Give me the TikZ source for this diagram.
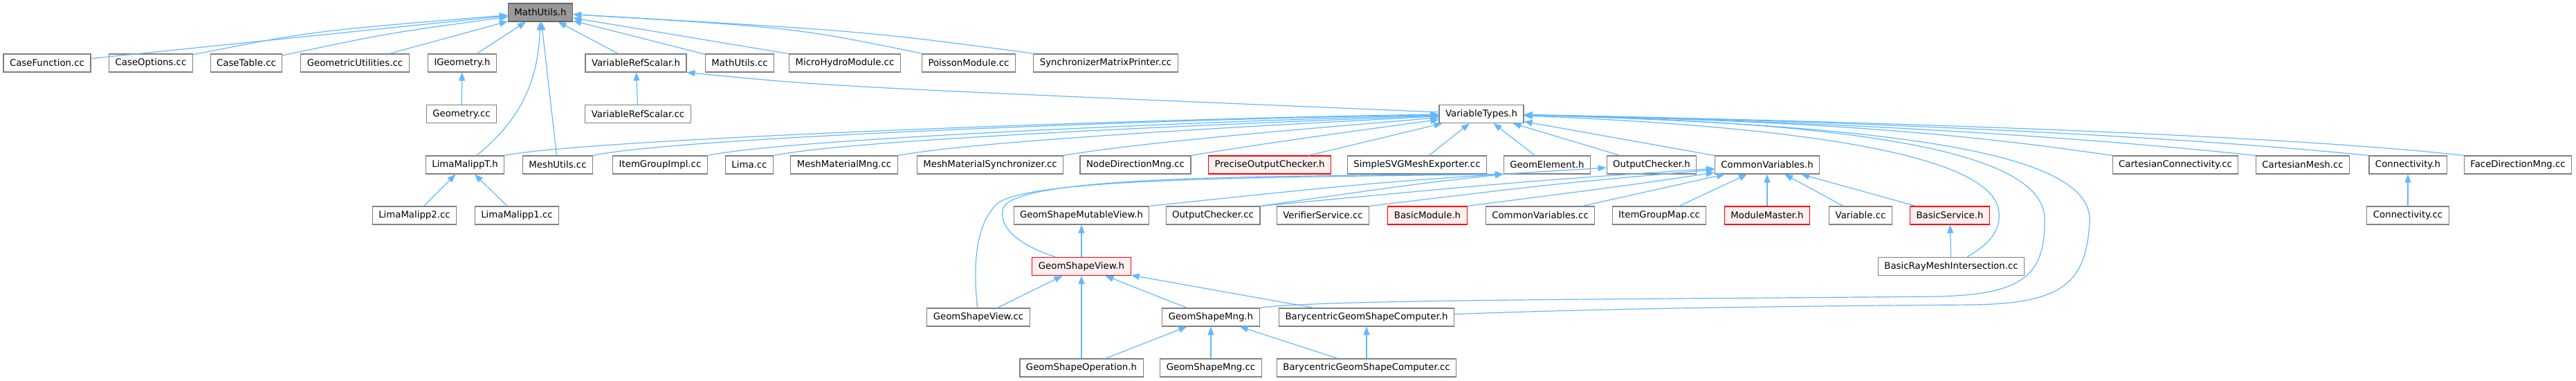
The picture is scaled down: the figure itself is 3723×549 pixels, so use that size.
\documentclass[tikz,border=0pt]{standalone}
\usepackage{fontspec}
\setmainfont{DejaVu Sans}
\usepackage{xcolor}
\usepackage{tikz}
\usetikzlibrary{arrows.meta}
\definecolor{edgeblue}{HTML}{63B8FF}
\definecolor{boxgray}{HTML}{808080}
\definecolor{rootfill}{HTML}{999999}
\definecolor{redfill}{HTML}{FFF0F0}

\begin{document}
\begin{tikzpicture}[
    x=1pt, y=-1pt,
    box/.style={rectangle, draw=boxgray, line width=1.1pt, fill=white, minimum height=26pt, inner xsep=9pt, inner ysep=2pt, font=\fontsize{13.3}{16}\selectfont},
    redbox/.style={box, draw=red, fill=redfill},
    rootbox/.style={box, draw=black!60, fill=rootfill},
    arrow/.style={<-, >={Triangle[length=12pt, width=9pt]}, edgeblue, line width=1.2pt}
]
    \useasboundingbox (0,0) rectangle (3723,549);

    \node[rootbox] (mathutils) at (781,18) {MathUtils.h};

    \node[box] (casefunction) at (68,91) {CaseFunction.cc};
    \node[box] (caseoptions) at (218,91) {CaseOptions.cc};
    \node[box] (casetable) at (356,91) {CaseTable.cc};
    \node[box] (geomutilities) at (513,91) {GeometricUtilities.cc};
    \node[box] (igeometry) at (668,91) {IGeometry.h};
    \node[box] (varrefscalar) at (919,91) {VariableRefScalar.h};
    \node[box] (mathutilscc) at (1069,91) {MathUtils.cc};
    \node[box] (microhydro) at (1221,91) {MicroHydroModule.cc};
    \node[box] (poisson) at (1400,91) {PoissonModule.cc};
    \node[box] (syncprinter) at (1598,91) {SynchronizerMatrixPrinter.cc};

    \node[box] (geometry) at (667,164.5) {Geometry.cc};
    \node[box] (varrefscalarcc) at (922,164.5) {VariableRefScalar.cc};
    \node[box] (vartypes) at (2141,164.5) {VariableTypes.h};

    \node[box] (limamalippt) at (672,238) {LimaMalippT.h};
    \node[box] (meshutils) at (806,238) {MeshUtils.cc};
    \node[box] (itemgroupimpl) at (954,238) {ItemGroupImpl.cc};
    \node[box] (lima) at (1083,238) {Lima.cc};
    \node[box] (meshmatmng) at (1220,238) {MeshMaterialMng.cc};
    \node[box] (meshmatsync) at (1431,238) {MeshMaterialSynchronizer.cc};
    \node[box] (nodedirmng) at (1641,238) {NodeDirectionMng.cc};
    \node[redbox] (precisechecker) at (1835,238) {PreciseOutputChecker.h};
    \node[box] (svgexporter) at (2048,238) {SimpleSVGMeshExporter.cc};
    \node[box] (geomelement) at (2236,238) {GeomElement.h};
    \node[box] (checkerh) at (2387,238) {OutputChecker.h};
    \node[box] (commonvars) at (2554,238) {CommonVariables.h};
    \node[box] (cartconn) at (3144,238) {CartesianConnectivity.cc};
    \node[box] (cartmesh) at (3328,238) {CartesianMesh.cc};
    \node[box] (connectivity) at (3480,238) {Connectivity.h};
    \node[box] (facedirmng) at (3639,238) {FaceDirectionMng.cc};

    \node[box] (limamalipp2) at (599,311) {LimaMalipp2.cc};
    \node[box] (limamalipp1) at (747,311) {LimaMalipp1.cc};
    \node[box] (mutableview) at (1563,311) {GeomShapeMutableView.h};
    \node[box] (checkercc) at (1753,311) {OutputChecker.cc};
    \node[box] (verifier) at (1912,311) {VerifierService.cc};
    \node[redbox] (basicmodule) at (2063,311) {BasicModule.h};
    \node[box] (commonvarscc) at (2226,311) {CommonVariables.cc};
    \node[box] (itemgroupmap) at (2398,311) {ItemGroupMap.cc};
    \node[redbox] (modulemaster) at (2554,311) {ModuleMaster.h};
    \node[box] (variablecc) at (2689,311) {Variable.cc};
    \node[redbox] (basicservice) at (2818,311) {BasicService.h};
    \node[box] (connectivitycc) at (3480,311) {Connectivity.cc};

    \node[redbox] (shapeview) at (1563,384.5) {GeomShapeView.h};
    \node[box] (raymesh) at (2820,384.5) {BasicRayMeshIntersection.cc};

    \node[box] (shapeviewcc) at (1414,458) {GeomShapeView.cc};
    \node[box] (shapemng) at (1750,458) {GeomShapeMng.h};
    \node[box] (barycentric) at (1975,458) {BarycentricGeomShapeComputer.h};

    \node[box] (shapeoperation) at (1563,531) {GeomShapeOperation.h};
    \node[box] (shapemngcc) at (1750,531) {GeomShapeMng.cc};
    \node[box] (barycentriccc) at (1975,531) {BarycentricGeomShapeComputer.cc};

    \draw[arrow] (mathutils) -- (casefunction);
    \draw[arrow] (mathutils) .. controls (450,45) .. (caseoptions);
    \draw[arrow] (mathutils) .. controls (560,48) .. (casetable);
    \draw[arrow] (mathutils) -- (geomutilities);
    \draw[arrow] (mathutils) -- (igeometry);
    \draw[arrow] (mathutils) -- (varrefscalar);
    \draw[arrow] (mathutils) -- (mathutilscc);
    \draw[arrow] (mathutils) -- (microhydro);
    \draw[arrow] (mathutils) .. controls (1150,40) .. (poisson);
    \draw[arrow] (mathutils) .. controls (1250,45) .. (syncprinter);
    \draw[arrow] (mathutils) .. controls (778,120) and (750,175) .. (limamalippt);
    \draw[arrow] (mathutils) -- (meshutils);
    \draw[arrow] (igeometry) -- (geometry);
    \draw[arrow] (varrefscalar) -- (varrefscalarcc);
    \draw[arrow] (varrefscalar.south east) .. controls (1200,125) .. (vartypes);

    \draw[arrow] (vartypes) .. controls (1700,170) and (850,200) .. (limamalippt.north east);
    \draw[arrow] (vartypes) .. controls (1700,172) and (980,198) .. (meshutils.north east);
    \draw[arrow] (vartypes) .. controls (1750,175) and (1140,200) .. (itemgroupimpl.north east);
    \draw[arrow] (vartypes) .. controls (1800,178) and (1240,200) .. (lima.north east);
    \draw[arrow] (vartypes) .. controls (1850,180) and (1420,202) .. (meshmatmng.north east);
    \draw[arrow] (vartypes) .. controls (1900,185) and (1650,205) .. (meshmatsync.north east);
    \draw[arrow] (vartypes) .. controls (1950,190) and (1820,208) .. (nodedirmng.north east);
    \draw[arrow] (vartypes) -- (precisechecker);
    \draw[arrow] (vartypes) -- (svgexporter);
    \draw[arrow] (vartypes) -- (geomelement);
    \draw[arrow] (vartypes) -- (checkerh);
    \draw[arrow] (vartypes) -- (commonvars);
    \draw[arrow] (vartypes) .. controls (2650,175) and (2850,195) .. (cartconn.north west);
    \draw[arrow] (vartypes) .. controls (2650,175) and (3000,197) .. (cartmesh.north west);
    \draw[arrow] (vartypes) .. controls (2700,175) and (3150,197) .. (connectivity.north west);
    \draw[arrow] (vartypes) .. controls (2700,175) and (3300,195) .. (facedirmng.north west);
    \draw[arrow] (vartypes) .. controls (2650,185) and (2870,230) .. (2888,300) .. controls (2895,335) and (2870,355) .. (raymesh);
    \draw[arrow] (vartypes) .. controls (2750,178) and (2960,230) .. (2955,320) .. controls (2955,400) and (2920,425) .. (2800,428) .. controls (2400,432) and (1900,432) .. (shapemng.north east);
    \draw[arrow] (vartypes) .. controls (2800,182) and (3025,230) .. (3020,320) .. controls (3015,410) and (2980,438) .. (2850,440) .. controls (2400,443) and (2200,450) .. (barycentric);

    \draw[arrow] (geomelement.south west) .. controls (1800,254) and (1470,255) .. (1450,300) .. controls (1440,335) and (1490,360) .. (shapeview.160);
    \draw[arrow] (geomelement.south west) .. controls (1800,256) and (1480,258) .. (1440,295) .. controls (1405,330) and (1408,400) .. (shapeviewcc);
    \draw[arrow] (geomelement.south west) .. controls (2050,265) .. (checkercc.north east);
    \draw[arrow] (checkerh) .. controls (2000,262) .. (mutableview.north east);

    \draw[arrow] (commonvars) .. controls (2200,262) .. (checkercc.north east);
    \draw[arrow] (commonvars) .. controls (2250,265) .. (verifier.north east);
    \draw[arrow] (commonvars) .. controls (2350,268) .. (basicmodule.north east);
    \draw[arrow] (commonvars) -- (commonvarscc);
    \draw[arrow] (commonvars) -- (itemgroupmap);
    \draw[arrow] (commonvars) -- (modulemaster);
    \draw[arrow] (commonvars) -- (variablecc);
    \draw[arrow] (commonvars) -- (basicservice);
    \draw[arrow] (basicservice) -- (raymesh);
    \draw[arrow] (connectivity) -- (connectivitycc);
    \draw[arrow] (limamalippt) -- (limamalipp2);
    \draw[arrow] (limamalippt) -- (limamalipp1);

    \draw[arrow] (mutableview) -- (shapeview);
    \draw[arrow] (shapeview) -- (shapeviewcc);
    \draw[arrow] (shapeview) -- (shapeoperation);
    \draw[arrow] (shapeview) -- (shapemng);
    \draw[arrow] (shapeview) -- (barycentric);
    \draw[arrow] (shapemng) -- (shapeoperation);
    \draw[arrow] (shapemng) -- (shapemngcc);
    \draw[arrow] (shapemng) -- (barycentriccc);
    \draw[arrow] (barycentric) -- (barycentriccc);
\end{tikzpicture}
\end{document}
